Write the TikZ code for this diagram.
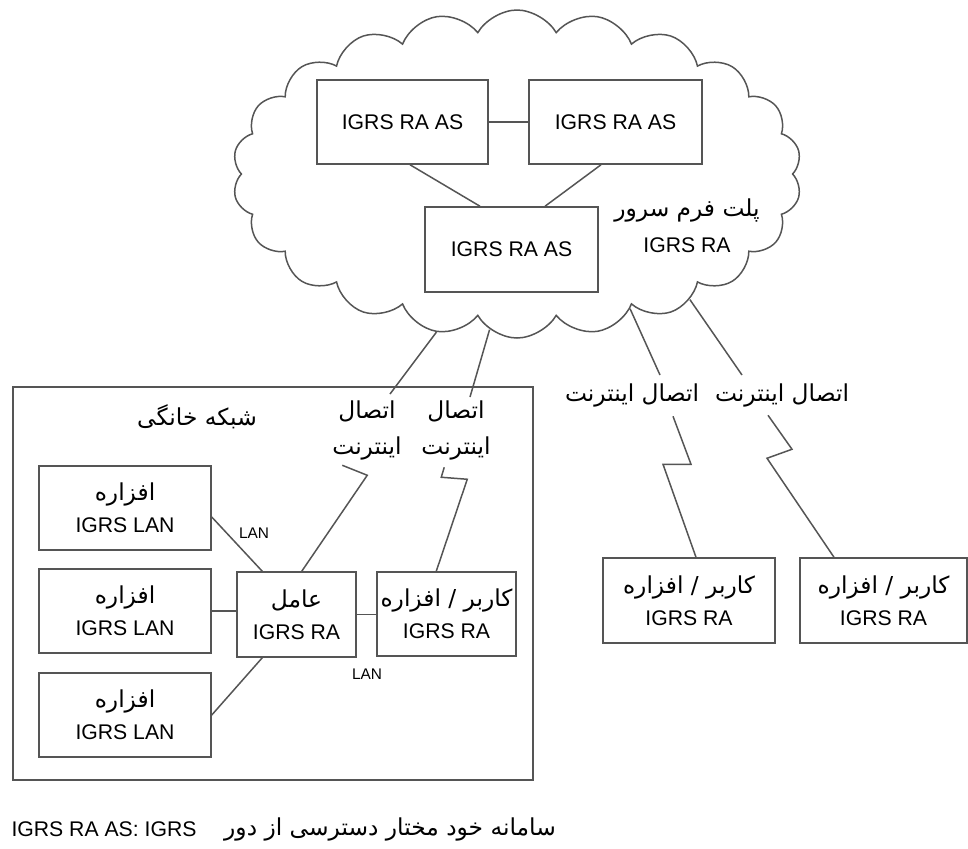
\documentclass[tikz,border=0pt]{standalone}
\usepackage{fontspec}
\setmainfont{Liberation Sans}
\newfontfamily\fa[Script=Arabic,Scale=1.1]{DejaVu Sans}
\TeXXeTstate=1
\usetikzlibrary{shapes.symbols}
\newcommand{\fatxt}[1]{{\fa\beginR #1\endR}}
\definecolor{linegray}{HTML}{555555}
\tikzset{
  box/.style={draw=linegray, line width=0.75pt, align=center, inner sep=0pt,
    minimum height=42pt, font=\fontsize{10.6}{16}\selectfont},
  conn/.style={draw=linegray, line width=0.75pt},
  lbl/.style={align=center, inner sep=1pt, font=\fontsize{10.6}{18}\selectfont},
  lanlbl/.style={inner sep=0pt, font=\fontsize{7.7}{9}\selectfont}
}
\begin{document}
\begin{tikzpicture}[x=0.5pt, y=-0.5pt]
\useasboundingbox (0,0) rectangle (968,848);
% server platform
\node[cloud, draw=linegray, line width=0.75pt, cloud puffs=22, cloud puff arc=120,
  aspect=1.73, minimum width=284.5pt, minimum height=164pt, inner sep=0pt] (cloud) at (517,174) {};
\node[box, minimum width=85.5pt] (as1) at (402.5,122) {IGRS RA AS};
\node[box, minimum width=86.5pt] (as2) at (615.5,122) {IGRS RA AS};
\node[box, minimum width=86.5pt, minimum height=42.5pt] (as3) at (511.5,249.5) {IGRS RA AS};
\node[lbl] (server) at (687,226) {\fatxt{پلت فرم سرور}\\IGRS RA};
\draw[conn] (as1.east) -- (as2.west);
\draw[conn] ([xshift=3.75pt]as1.south) -- ([xshift=-15.75pt]as3.north);
\draw[conn] ([xshift=-7.25pt]as2.south) -- ([xshift=16.75pt]as3.north);

% home network
\node[box, minimum width=260pt, minimum height=196.5pt] (home) at (273,583.5) {};
\node[lbl] (hometitle) at (197,417) {\fatxt{شبکه خانگی}};
\node[box, minimum width=86pt] (lan1) at (125,508) {\fatxt{افزاره}\\IGRS LAN};
\node[box, minimum width=86pt] (lan2) at (125,611) {\fatxt{افزاره}\\IGRS LAN};
\node[box, minimum width=86pt] (lan3) at (125,715) {\fatxt{افزاره}\\IGRS LAN};
\node[box, minimum width=59.5pt, minimum height=42.5pt] (agent) at (296.5,614.5) {\fatxt{عامل}\\IGRS RA};
\node[box, minimum width=69.5pt] (user) at (446.5,614) {\fatxt{کاربر / افزاره}\\IGRS RA};
\node[lanlbl] (lanA) at (254,533) {LAN};
\node[lanlbl] (lanB) at (367,674) {LAN};
\draw[conn] ([yshift=-4.5pt]lan1.east) -- ([xshift=13pt]agent.north west);
\draw[conn] (lan2.east) -- (lan2.east -| agent.west);
\draw[conn] (lan3.east) -- ([xshift=13pt]agent.south west);
\draw[conn] (agent.east) -- (agent.east -| user.west);

% internet links
\node[lbl] (net1) at (367,430) {\fatxt{اتصال}\\\fatxt{اینترنت}};
\node[lbl] (net2) at (456,430) {\fatxt{اتصال}\\\fatxt{اینترنت}};
\node[lbl] (net3) at (632,395) {\fatxt{اتصال اینترنت}};
\node[lbl] (net4) at (782,395) {\fatxt{اتصال اینترنت}};
\coordinate (top1) at (390,394);
\coordinate (top2) at (470,397);
\coordinate (top3) at (660,375);
\coordinate (top4) at (742,375);
\draw[conn] (cloud.243) -- (top1);
\draw[conn] (cloud.260) -- (top2);
\draw[conn] (cloud.310) -- (top3);
\draw[conn] (cloud.324) -- (top4);
\draw[conn] ([xshift=32.75pt]agent.north west) -- ++(65.5,-96) -- ++(-25,-10);
\draw[conn] ([xshift=30pt]user.north west) -- ++(31,-92) -- ++(-26,-2) -- ++(3,-10);

% remote users
\node[box, minimum width=86pt, minimum height=42.5pt] (remote1) at (689,600.5) {\fatxt{کاربر / افزاره}\\IGRS RA};
\node[box, minimum width=83.5pt, minimum height=42.5pt] (remote2) at (883.5,600.5) {\fatxt{کاربر / افزاره}\\IGRS RA};
\draw[conn] ([xshift=3.5pt]remote1.north) -- ++(-33,-93) -- ++(28,0) -- ++(-18,-48);
\draw[conn] ([xshift=-24.75pt]remote2.north) -- ++(-67,-99) -- ++(25,-9) -- ++(-24,-34);

% legend
\node[lbl] (legendA) at (104,829) {IGRS RA AS: IGRS};
\node[lbl] (legendB) at (390,829) {\fatxt{سامانه خود مختار دسترسی از دور}};
\end{tikzpicture}
\end{document}
